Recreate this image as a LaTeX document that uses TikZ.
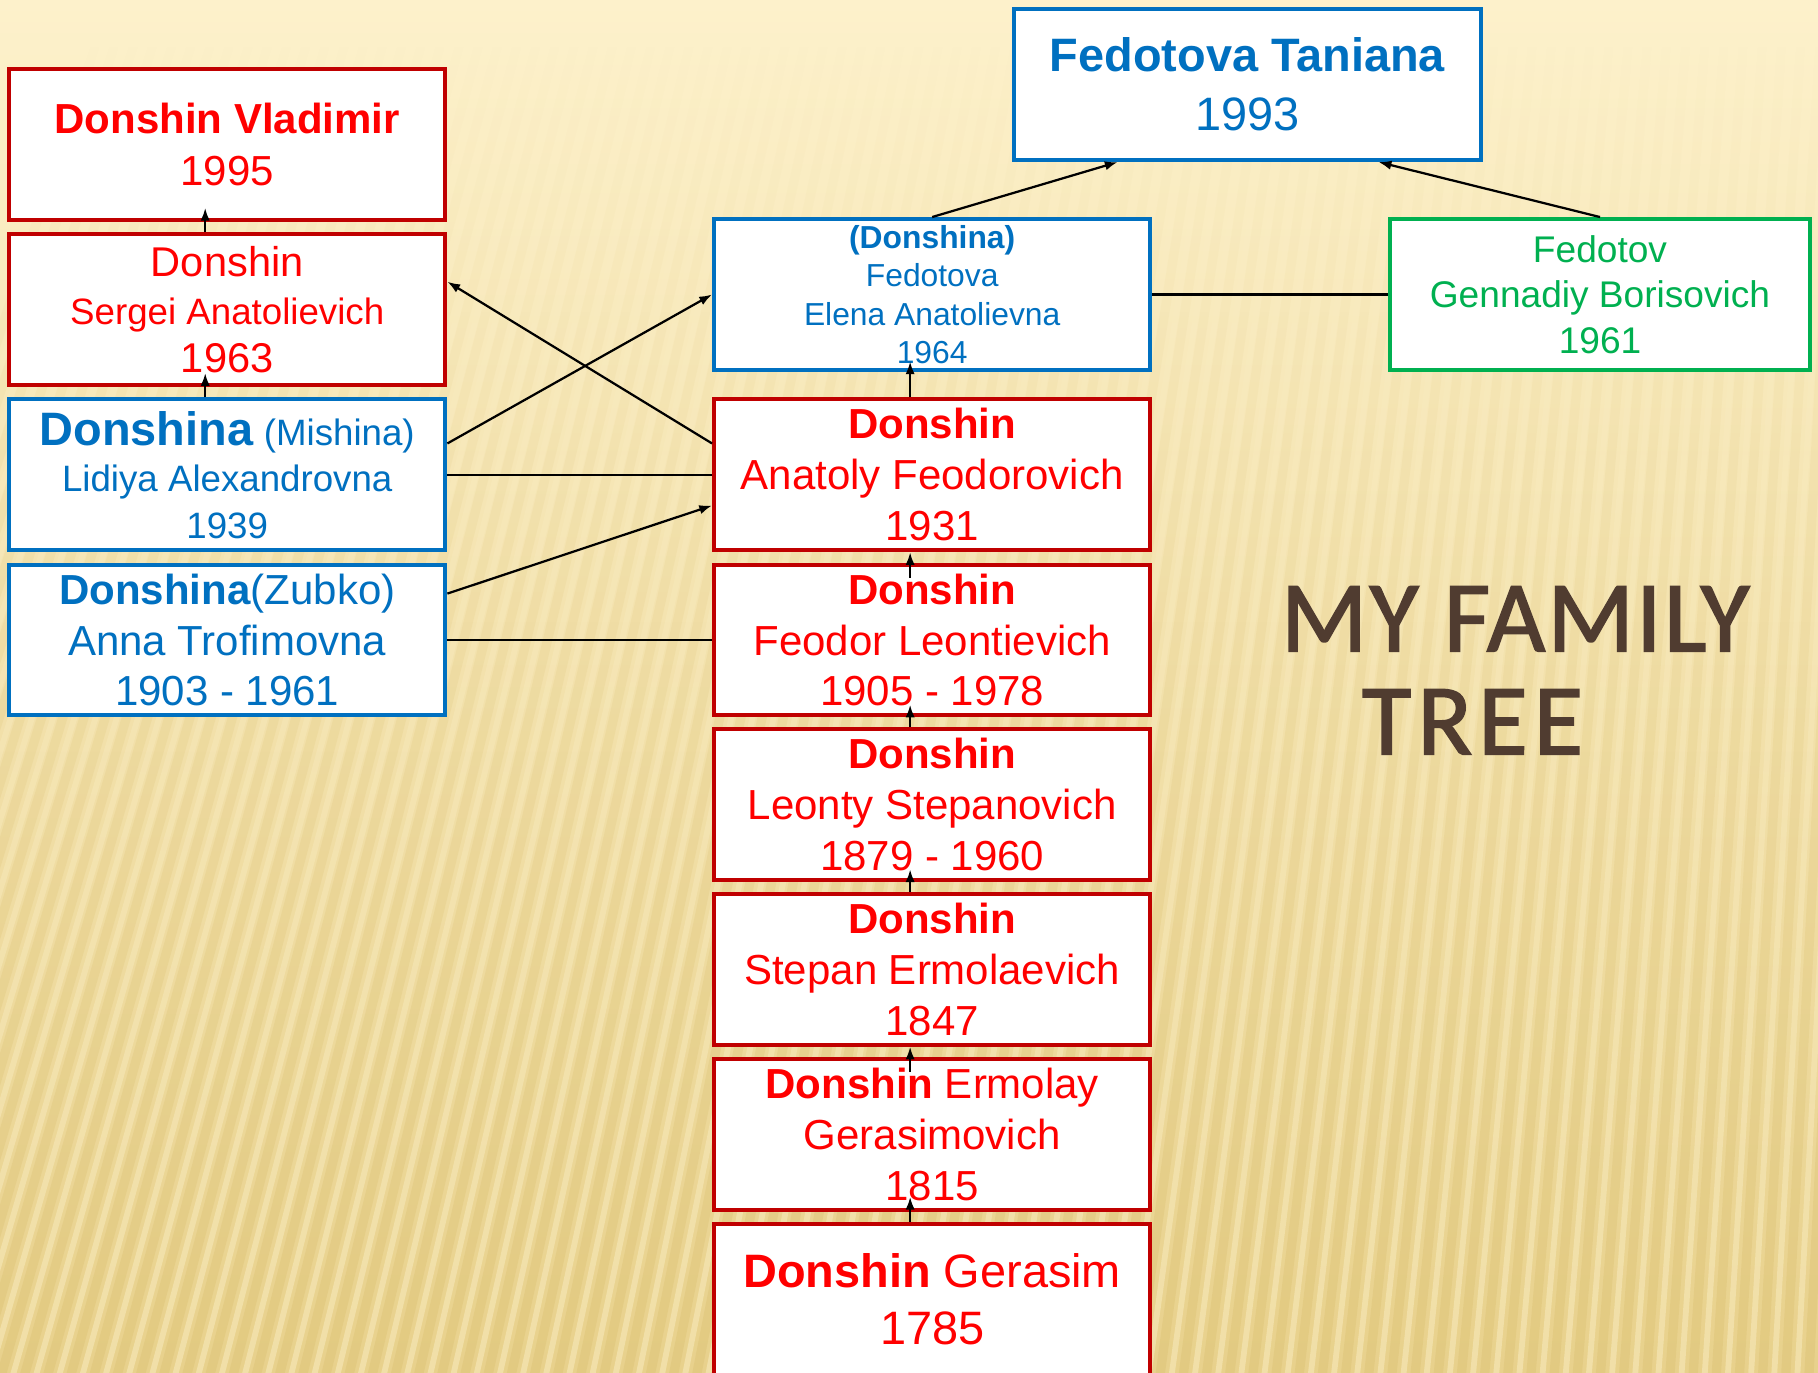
\documentclass[tikz,border=0pt]{standalone}
\usepackage{fontspec}
\setmainfont{Liberation Sans}
\newfontfamily\titlefont[FakeBold=1.6]{Carlito}
\usetikzlibrary{arrows.meta,fadings}

\definecolor{namered}{RGB}{255,0,0}
\definecolor{boxred}{RGB}{192,0,0}
\definecolor{boxblue}{RGB}{0,112,192}
\definecolor{boxgreen}{RGB}{0,176,80}
\definecolor{titlebrown}{RGB}{80,60,48}
\definecolor{bgtop}{RGB}{253,241,203}
\definecolor{bgmid}{RGB}{247,230,173}
\definecolor{bgbottom}{RGB}{232,209,140}
\definecolor{stripe}{RGB}{214,186,104}
\definecolor{shine}{RGB}{255,246,212}

\newcommand{\fsz}[2]{\fontsize{#1}{#2}\selectfont}

\tikzset{
  person/.style={draw, fill=white, line width=1pt, minimum width=3.76cm,
    minimum height=1.3cm, align=center, inner sep=0pt},
  redperson/.style={person, draw=boxred, text=namered},
  blueperson/.style={person, draw=boxblue, text=boxblue},
  greenperson/.style={person, draw=boxgreen, text=boxgreen},
  link/.style={line width=0.55pt, -{Latex[length=1.1mm,width=0.8mm]}},
  marriage/.style={line width=0.55pt},
}

\begin{document}
\begin{tikzpicture}[x=0.01cm, y=-0.01cm]
  % Background
  \useasboundingbox (0,0) rectangle (1568,1184.2);
  \clip (0,0) rectangle (1568,1184.2);
  \fill[top color=bgtop, middle color=bgmid, bottom color=bgbottom] (0,0) rectangle (1568,1184.2);
  \foreach \i in {0,...,100} {
    \pgfmathsetmacro{\xb}{-300+20*\i}
    \pgfmathsetmacro{\xt}{\xb+330*(1-\xb/1900)}
    \pgfmathsetmacro{\xs}{\xb+10}
    \pgfmathsetmacro{\xts}{\xt+10}
    \draw[stripe, line width=0.08cm, opacity=0.3, path fading=north] (\xb,1190) -- (\xt,40);
    \draw[shine, line width=0.05cm, opacity=0.4, path fading=north] (\xs,1190) -- (\xts,40);
  }

  % Left column
  \node[redperson, font=\fsz{10.3}{12.8}] (vlad) at (196,124.5) {\textbf{Donshin Vladimir}\\1995};
  \node[redperson, font=\fsz{10.2}{11.7}] (serg) at (196,267) {Donshin\\{\fsz{9}{11}Sergei Anatolievich}\\1963};
  \node[blueperson, font=\fsz{9}{11.4}] (lid) at (196,409.5) {{\fsz{11.5}{13}\textbf{Donshina}} (Mishina)\\Lidiya Alexandrovna\\1939};
  \node[blueperson, font=\fsz{10.3}{12.5}] (anna) at (196,552) {\textbf{Donshina}(Zubko)\\Anna Trofimovna\\1903 - 1961};

  % Top row
  \node[blueperson, minimum width=4.02cm, font=\fsz{11.5}{14.5}] (tan) at (1076,73) {\textbf{Fedotova Taniana}\\1993};
  \node[blueperson, font=\fsz{7.8}{9.4}] (elena) at (804,254) {\textbf{(Donshina)}\\Fedotova\\Elena Anatolievna\\1964};
  \node[greenperson, minimum width=3.62cm, font=\fsz{9.1}{11.1}] (genn) at (1380,254) {Fedotov\\Gennadiy Borisovich\\1961};

  % Middle column
  \node[redperson, font=\fsz{10.3}{12.5}] (anat) at (804,409.5) {\textbf{Donshin}\\Anatoly Feodorovich\\1931};
  \node[redperson, font=\fsz{10.3}{12.5}] (feod) at (804,552) {\textbf{Donshin}\\Feodor Leontievich\\1905 - 1978};
  \node[redperson, font=\fsz{10.3}{12.5}] (leon) at (804,694) {\textbf{Donshin}\\Leonty Stepanovich\\1879 - 1960};
  \node[redperson, font=\fsz{10.3}{12.5}] (step) at (804,836) {\textbf{Donshin}\\Stepan Ermolaevich\\1847};
  \node[redperson, font=\fsz{10.3}{12.5}] (erm) at (804,978.5) {\textbf{Donshin} Ermolay\\Gerasimovich\\1815};
  \node[redperson, font=\fsz{11.5}{14}] (ger) at (804,1120.5) {\textbf{Donshin} Gerasim\\1785};

  % Title
  \node[anchor=north west, align=left, inner sep=0pt, text=titlebrown,
    font=\titlefont\fsz{24.8}{25.3}] (title) at (1104,505)
    {{\addfontfeature{LetterSpace=2.2}MY FAMILY}\\\hspace*{0.70cm}{\addfontfeature{LetterSpace=6}TREE}};

  % Marriages
  \draw[marriage] (elena.east) -- (genn.west);
  \draw[marriage] (lid.east) -- (anat.west);
  \draw[marriage] (anna.east) -- (feod.west);

  % Children
  \draw[link] ([xshift=-0.19cm]serg.north) -- ([xshift=-0.19cm, yshift=0.12cm]vlad.south);
  \draw[link] ([xshift=-0.19cm]lid.north) -- ([xshift=-0.19cm, yshift=0.12cm]serg.south);
  \draw[link] (elena.north) -- ([xshift=-1.12cm]tan.south);
  \draw[link] (genn.north) -- ([xshift=1.13cm]tan.south);
  \draw[link] ([yshift=0.27cm]lid.east) -- (elena.west);
  \draw[link] ([yshift=0.27cm]anat.west) -- ([yshift=0.24cm]serg.east);
  \draw[link] ([yshift=0.40cm]anna.east) -- ([yshift=-0.265cm]anat.west);

  % Donshin line
  \draw[link] ([xshift=-0.19cm]anat.north) -- ([xshift=-0.19cm, yshift=0.09cm]elena.south);
  \draw[link] ([xshift=-0.19cm, yshift=-0.13cm]feod.north) -- ([xshift=-0.19cm]anat.south);
  \draw[link] ([xshift=-0.19cm]leon.north) -- ([xshift=-0.19cm, yshift=0.11cm]feod.south);
  \draw[link] ([xshift=-0.19cm]step.north) -- ([xshift=-0.19cm, yshift=0.11cm]leon.south);
  \draw[link] ([xshift=-0.19cm, yshift=-0.13cm]erm.north) -- ([xshift=-0.19cm]step.south);
  \draw[link] ([xshift=-0.19cm]ger.north) -- ([xshift=-0.19cm, yshift=0.13cm]erm.south);
\end{tikzpicture}
\end{document}
